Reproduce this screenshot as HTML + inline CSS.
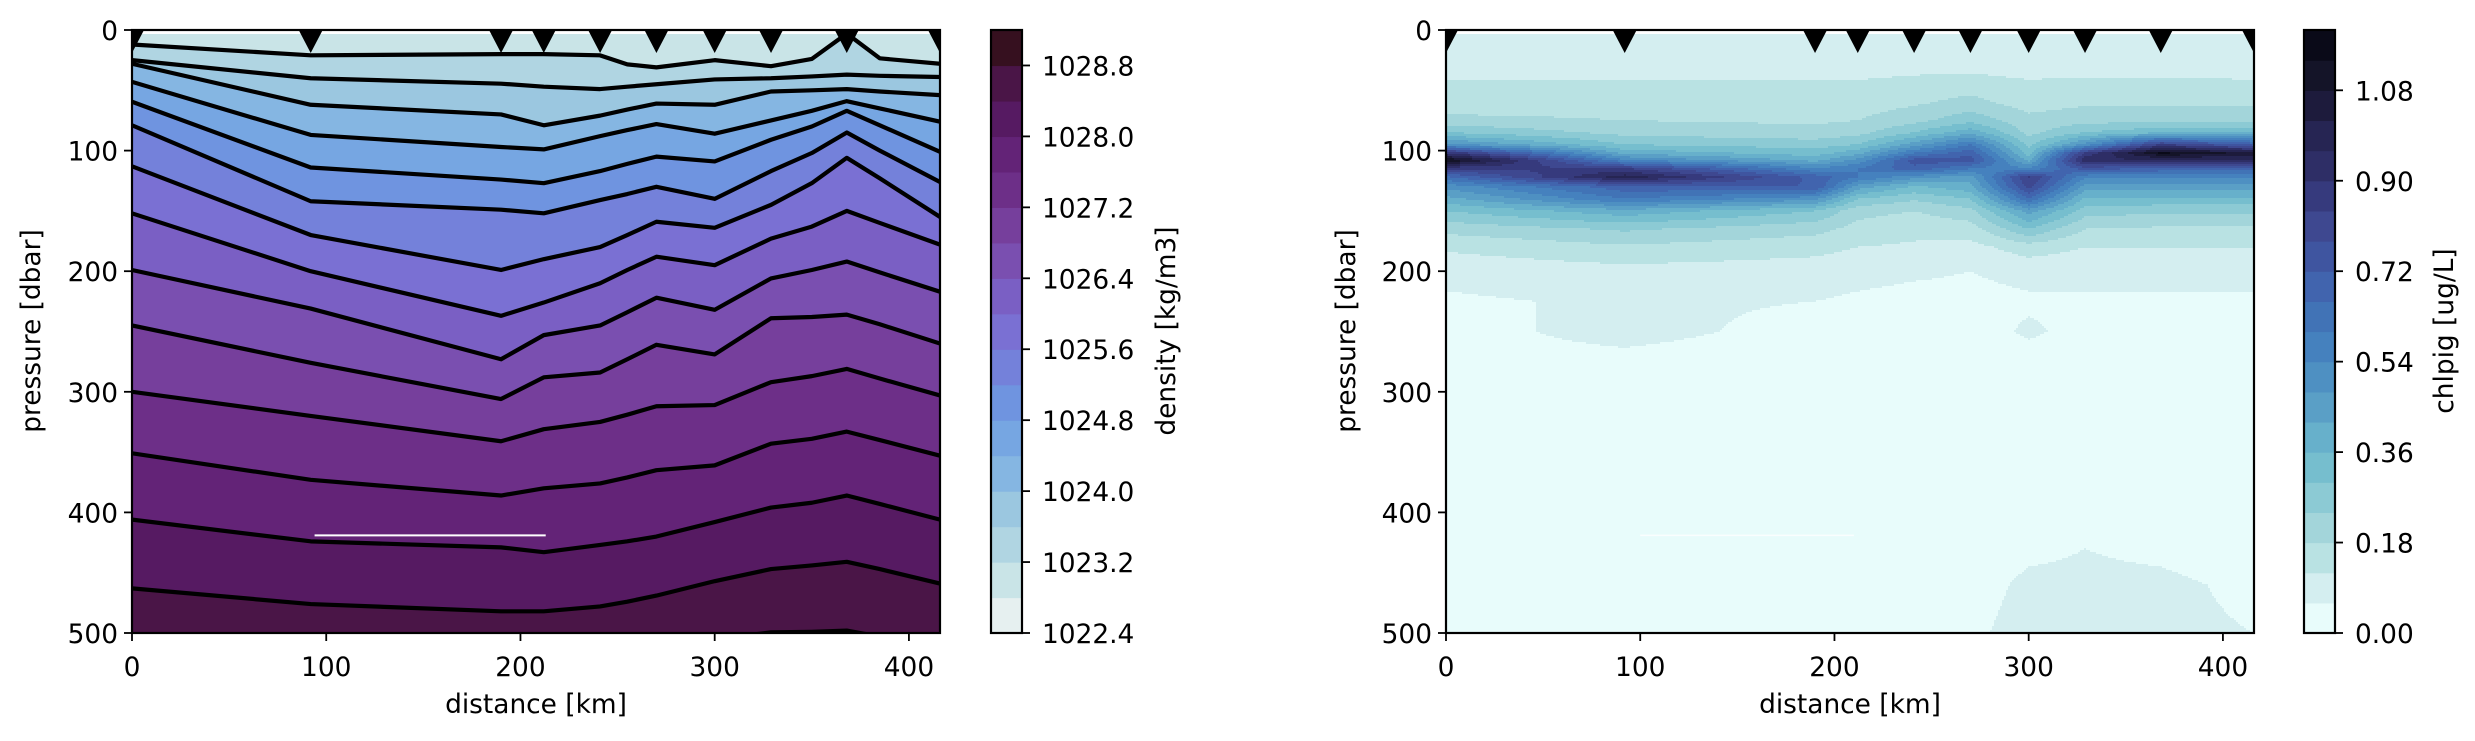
<!DOCTYPE html>
<html><head><meta charset="utf-8">
<style>
html,body{margin:0;padding:0;background:#fff;}
svg{display:block;font-family:"DejaVu Sans","Liberation Sans",sans-serif;}
</style></head>
<body>
<svg id="fig" width="2475" height="741" viewBox="0 0 2475 741" xmlns="http://www.w3.org/2000/svg">
<defs>
<clipPath id="clipL"><rect x="132" y="30" width="808" height="603"/></clipPath>
<clipPath id="clipR"><rect x="1446" y="30" width="808" height="603"/></clipPath>
</defs>
<g id="densityPanel"></g>
<g id="chlPanel"></g>
</svg>
<script>
// ---------- shared data ----------
const stations = [0, 92, 190, 212, 241, 270, 300, 329, 368, 416];
const xTicks = [0, 100, 200, 300, 400];
const yTicks = [0, 100, 200, 300, 400, 500];

// ---------- density data: isopycnal depths (dbar) on contour grid ----------
const isoX = [0, 92, 190, 212, 241, 255, 270, 300, 329, 350, 368, 385, 416];
const isoLevels = [1023.2, 1023.6, 1024.0, 1024.4, 1024.8, 1025.2, 1025.6, 1026.0, 1026.4, 1026.8, 1027.2, 1027.6, 1028.0, 1028.4, 1028.8];
const iso1 = [12, 21, 20, 20, 21, 28.5, 31, 25, 30, 24, 3, 23.5, 28];
const iso2 = [25, 40, 44.5, 47, 49, 47, 45, 41, 40, 38.5, 37, 38, 39];
const iso3 = [28, 62, 70, 79, 71, 66, 61, 62, 51, 50, 49, 51, 54];
const iso4 = [43, 87, 97, 99, 88, 83, 78, 86, 75, 67, 59, 65, 76];
const iso5 = [59.5, 114, 124, 127, 117, 111, 105, 109, 91, 80, 67, 79, 101];
const iso6 = [79, 142, 149, 152, 141, 136, 130, 140, 117, 102, 85, 100, 126];
const iso7 = [113, 170, 199, 190, 180, 170, 159, 164, 145, 127, 106, 123, 155];
const iso8 = [152, 200, 237, 226, 210, 199, 188, 195, 173, 163, 150, 160, 178];
const iso9 = [199, 231, 273, 253, 245, 234, 222, 232, 206, 199, 192, 201, 217];
const iso10 = [245, 276, 306, 288, 284, 273, 261, 269, 239, 238, 236, 244, 260];
const iso11 = [300, 320, 341, 331, 325, 319, 312, 311, 292, 287, 281, 289, 303];
const iso12 = [351, 373, 386, 380, 376, 371, 365, 361, 343, 339, 333, 340, 353];
const iso13 = [406, 424, 429, 433, 427, 424, 420, 408, 396, 392, 386, 393, 406];
const iso14 = [463, 476, 482, 482, 478, 474, 469, 457, 447, 444, 441, 447, 459];
const iso15 = [512, 512, 512, 512, 512, 512, 512, 505, 499.5, 499, 498, 503, 512];
const isoDepths = [iso1, iso2, iso3, iso4, iso5, iso6, iso7, iso8, iso9, iso10, iso11, iso12, iso13, iso14, iso15];
const densTicks = [1022.4, 1023.2, 1024.0, 1024.8, 1025.6, 1026.4, 1027.2, 1028.0, 1028.8];
const densMin = 1022.4, densMax = 1029.2, densStep = 0.4;
const densColors = ["#e6f0f0","#c9e4e7","#b0d5e2","#9bc7e0","#85b6e2","#76a6e2","#6f94e0","#7481da","#7a70d3","#7a5fc4","#7a4fb0","#763f9c","#6d2f88","#632377","#561a62","#4a1547","#36101f"];

// ---------- chlorophyll data (ug/L) at stations x depths ----------
const chlDepths = [0, 30, 45, 60, 75, 85, 95, 102, 108, 115, 122, 130, 140, 150, 165, 180, 200, 225, 250, 270, 300, 430, 460, 500];
const chl0   = [0.08,0.08,0.13,0.14,0.20,0.30,0.50,0.90,1.15,0.85,0.65,0.50,0.40,0.30,0.20,0.13,0.08,0.05,0.04,0.04,0.03,0.03,0.04,0.05];
const chl92  = [0.08,0.09,0.13,0.15,0.18,0.22,0.30,0.40,0.55,0.85,1.00,0.70,0.60,0.40,0.25,0.17,0.10,0.07,0.08,0.05,0.03,0.03,0.03,0.03];
const chl190 = [0.08,0.09,0.13,0.15,0.17,0.20,0.27,0.33,0.40,0.55,0.70,0.72,0.50,0.30,0.20,0.14,0.09,0.06,0.04,0.03,0.03,0.03,0.03,0.03];
const chl212 = [0.08,0.09,0.13,0.15,0.18,0.22,0.30,0.40,0.50,0.60,0.60,0.45,0.30,0.20,0.16,0.12,0.08,0.05,0.04,0.03,0.03,0.03,0.03,0.03];
const chl241 = [0.08,0.10,0.14,0.17,0.22,0.30,0.45,0.60,0.75,0.70,0.50,0.35,0.25,0.18,0.14,0.11,0.07,0.04,0.03,0.03,0.03,0.03,0.03,0.04];
const chl270 = [0.08,0.10,0.15,0.20,0.28,0.40,0.60,0.70,0.75,0.60,0.45,0.40,0.30,0.22,0.15,0.10,0.06,0.04,0.03,0.03,0.03,0.03,0.04,0.05];
const chl300 = [0.08,0.09,0.13,0.15,0.20,0.22,0.28,0.33,0.40,0.55,0.85,0.80,0.65,0.45,0.30,0.15,0.08,0.05,0.07,0.04,0.03,0.05,0.07,0.08];
const chl329 = [0.08,0.09,0.14,0.17,0.22,0.30,0.50,0.85,0.95,0.75,0.55,0.45,0.35,0.27,0.18,0.12,0.08,0.05,0.04,0.03,0.03,0.06,0.07,0.07];
const chl368 = [0.08,0.09,0.14,0.17,0.22,0.35,0.85,1.15,0.95,0.70,0.55,0.45,0.35,0.25,0.17,0.12,0.08,0.05,0.04,0.03,0.03,0.05,0.07,0.07];
const chl416 = [0.08,0.09,0.13,0.17,0.22,0.35,0.70,1.05,0.95,0.70,0.55,0.45,0.35,0.25,0.17,0.12,0.08,0.05,0.04,0.03,0.03,0.03,0.05,0.06];
const chlProfiles = [chl0, chl92, chl190, chl212, chl241, chl270, chl300, chl329, chl368, chl416];
const chlTicks = [0.00, 0.18, 0.36, 0.54, 0.72, 0.90, 1.08];
const chlMax = 1.2, chlStep = 0.06;
const chlColors = ["#e8fcfb","#d4eef0","#b9e2e3","#a3d5da","#8ccad4","#76bece","#67b0cb","#5a9fc6","#4e90c2","#4581be","#4173b6","#4164ae","#3f55a0","#3e4890","#363a7d","#2e2e66","#262553","#1d1b3c","#141428","#0a0a18"];

// ---------- helpers ----------
const NS = "http://www.w3.org/2000/svg";
function mk(tag, attrs, parent){ const e=document.createElementNS(NS,tag); for(const k in attrs) e.setAttribute(k,attrs[k]); parent.appendChild(e); return e; }
const AX = {top:30, bottom:633, w:808, kmMax:416, pMax:500};
function xScale(left){ return km => left + km/AX.kmMax*AX.w; }
const yScale = p => AX.top + p/AX.pMax*(AX.bottom-AX.top);
function interp(xs, ys, x){
  if(x<=xs[0]) return ys[0];
  for(let i=1;i<xs.length;i++){ if(x<=xs[i]){ const t=(x-xs[i-1])/(xs[i]-xs[i-1]); return ys[i-1]+t*(ys[i]-ys[i-1]); } }
  return ys[ys.length-1];
}

function drawAxes(g, left, xs, ylabelX){
  const fr=mk('rect',{x:left,y:AX.top,width:AX.w,height:AX.bottom-AX.top,fill:'none',stroke:'#000','stroke-width':2.2},g);
  
  
  xTicks.forEach(v=>{
    const x=xs(v);
    const t=mk('line',{x1:x,y1:AX.bottom,x2:x,y2:AX.bottom+8,stroke:'#000','stroke-width':1.8},g);
    
    
    const l=mk('text',{x:x,y:676,'font-size':26.4,'text-anchor':'middle'},g); l.textContent=v;
    
    
  });
  yTicks.forEach(v=>{
    const y=yScale(v);
    const t=mk('line',{x1:left-8,y1:y,x2:left,y2:y,stroke:'#000','stroke-width':1.8},g);
    
    
    const l=mk('text',{x:left-14,y:y+10,'font-size':26.4,'text-anchor':'end'},g); l.textContent=v;
    
    
  });
  const xl=mk('text',{x:left+AX.w/2,y:713,'font-size':26.4,'text-anchor':'middle'},g); xl.textContent='distance [km]';
  
  
  const yl=mk('text',{x:0,y:0,'font-size':26.4,'text-anchor':'middle',transform:`translate(${ylabelX},331) rotate(-90)`},g); yl.textContent='pressure [dbar]';
  
  
  stations.forEach(s=>{
    const x=xs(s);
    const tri=mk('polygon',{points:`${x-12},${AX.top} ${x+12},${AX.top} ${x},${AX.top+23}`,fill:'#000','clip-path':`url(#${left<1000?'clipL':'clipR'})`},g);
    
    
  });
}

function drawColorbar(g, x0, colors, vmin, vmax, ticks, fmt, label, labelX){
  const w=31, n=colors.length, h=AX.bottom-AX.top;
  colors.forEach((c,i)=>{
    const y1=AX.bottom-(i+1)/n*h;
    const r=mk('rect',{x:x0,y:y1,width:w,height:h/n+0.6,fill:c},g);
    
    
  });
  const fr=mk('rect',{x:x0,y:AX.top,width:w,height:h,fill:'none',stroke:'#000','stroke-width':2.2},g);
  
  
  ticks.forEach(v=>{
    const y=AX.bottom-(v-vmin)/(vmax-vmin)*h;
    const t=mk('line',{x1:x0+w,y1:y,x2:x0+w+8,y2:y,stroke:'#000','stroke-width':1.8},g);
    
    
    const l=mk('text',{x:x0+w+20,y:y+10,'font-size':26.4},g); l.textContent=fmt(v);
    
    
  });
  const cl=mk('text',{x:0,y:0,'font-size':26.4,'text-anchor':'middle',transform:`translate(${labelX},331) rotate(-90)`},g); cl.textContent=label;
  
  
}

// ---------- density panel ----------
(function(){
  const g=document.getElementById('densityPanel');
  const xs=xScale(132);
  const fillG=mk('g',{'clip-path':'url(#clipL)'},g);
  
  
  const surface=isoX.map(()=>3), bottom=isoX.map(()=>520);
  const bounds=[surface].concat(isoDepths).concat([bottom]);
  for(let r=0;r<bounds.length-1;r++){
    const up=bounds[r], lo=bounds[r+1];
    const pts=isoX.map((x,i)=>`${xs(x)},${yScale(up[i])}`).concat(isoX.map((x,i)=>`${xs(x)},${yScale(lo[i])}`).reverse());
    const p=mk('polygon',{points:pts.join(' '),fill:densColors[Math.min(densColors.length-1,r+1)]},fillG);
    
    
  }
  isoDepths.forEach((d,k)=>{
    const pts=isoX.map((x,i)=>`${xs(x)},${yScale(d[i])}`).join(' ');
    const l=mk('polyline',{points:pts,fill:'none',stroke:'#000','stroke-width':4.2,'stroke-linejoin':'round'},fillG);
    
    
  });
  const gap=mk('line',{x1:xs(94),y1:yScale(419),x2:xs(213),y2:yScale(419),stroke:'#fff','stroke-width':2},g);
  
  
  const top=mk('rect',{x:133,y:31,width:806,height:3,fill:'#fff'},g);
  
  
  drawAxes(g,132,xs,40);
  drawColorbar(g,991,densColors,densMin,densMax,densTicks,v=>v.toFixed(1),'density [kg/m3]',1175);
})();

// ---------- chlorophyll panel ----------
(function(){
  const g=document.getElementById('chlPanel');
  const left=1446, xs=xScale(left);
  const fillG=mk('g',{'clip-path':'url(#clipR)'},g);
  
  
  const rowH=2, colW=2;
  for(let y=34;y<AX.bottom;y+=rowH){
    const p=(y+rowH/2-AX.top)/(AX.bottom-AX.top)*AX.pMax;
    const col=chlProfiles.map(pr=>interp(chlDepths,pr,p));
    let runStart=left, runBand=-1;
    for(let x=left;x<=left+AX.w;x+=colW){
      let band=-2;
      if(x<left+AX.w){
        const km=(x+colW/2-left)/AX.w*AX.kmMax;
        const v=interp(stations,col,km);
        band=Math.max(0,Math.min(chlColors.length-1,Math.floor(v/chlStep)));
      }
      if(band!==runBand){
        if(runBand>=0){
          const r=mk('rect',{x:runStart,y:y,width:x-runStart+0.5,height:rowH+0.5,fill:chlColors[runBand]},fillG);
          
          
        }
        runStart=x; runBand=band;
      }
    }
  }
  const gap=mk('line',{x1:xs(100),y1:yScale(419),x2:xs(210),y2:yScale(419),stroke:'#fff','stroke-width':1.5,opacity:0.8},g);
  
  
  drawAxes(g,left,xs,1355);
  drawColorbar(g,2304,chlColors,0,chlMax,chlTicks,v=>v.toFixed(2),'chlpig [ug/L]',2453);
})();
</script>
</body></html>
